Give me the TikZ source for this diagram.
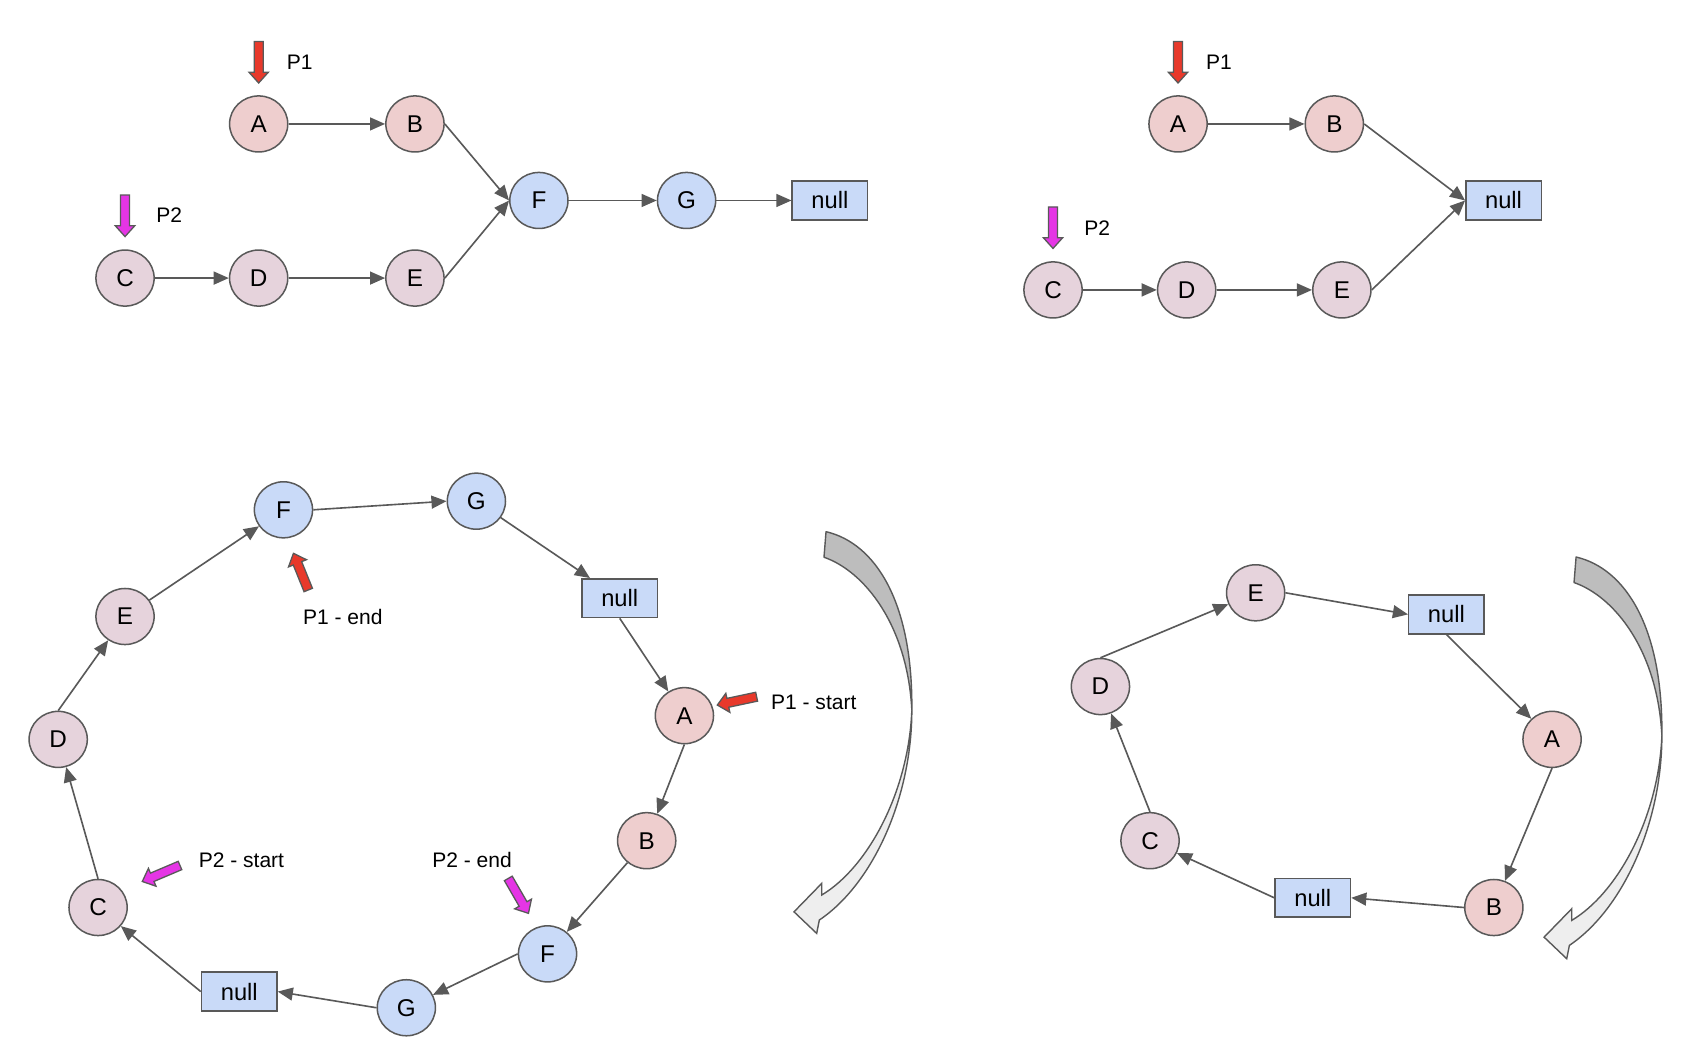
\documentclass[tikz,border=0pt]{standalone}
\usepackage{fontspec}
\setmainfont{Liberation Sans}
\usetikzlibrary{arrows.meta,shapes.geometric}
\definecolor{bord}{HTML}{595959}
\definecolor{pinkA}{HTML}{EECECE}
\definecolor{mauve}{HTML}{E6D3DC}
\definecolor{blueF}{HTML}{C9DAF8}
\definecolor{ptrred}{HTML}{E8392B}
\definecolor{ptrmag}{HTML}{E535E5}
\definecolor{darkg}{HTML}{BDBDBD}
\definecolor{lightg}{HTML}{EEEEEE}
\newcommand{\ptrarrow}[4]{%
  \begin{scope}[shift={#1},rotate=#2]
    \filldraw[draw=bord,line width=1.2pt,fill=#4,line join=miter]
      (0,-4.2) -- (#3-10,-4.2) -- (#3-10,-9) -- (#3,0) -- (#3-10,9) -- (#3-10,4.2) -- (0,4.2) -- cycle;
  \end{scope}}
\newcommand{\bigcurvearrow}[1]{%
  \begin{scope}[shift={#1}]
    \filldraw[draw=bord,line width=1.3pt,fill=darkg,line join=round]
      (766.4,493.3) .. controls (812,504) and (847,558) .. (846,659)
      .. controls (842,580) and (802,530) .. (764.5,517) -- cycle;
    \filldraw[draw=bord,line width=1.3pt,fill=lightg,line join=miter]
      (846,659) .. controls (843,735) and (805,805) .. (762.4,830.4)
      -- (762.4,819.6) -- (736.7,846) -- (757.7,866) -- (760.2,853.6)
      .. controls (810,820) and (846,740) .. (846,659) -- cycle;
  \end{scope}}
\begin{document}
\begin{tikzpicture}[x=1pt,y=-1pt,
  nd/.style={ellipse,draw=bord,line width=1.4pt,minimum width=54pt,minimum height=52pt,inner sep=0pt,font=\fontsize{22.5}{26}\selectfont},
  pinknd/.style={nd,fill=pinkA},
  mauvend/.style={nd,fill=mauve},
  bluend/.style={nd,fill=blueF},
  nullnd/.style={rectangle,draw=bord,fill=blueF,line width=1.4pt,minimum width=70pt,minimum height=36pt,inner sep=0pt,font=\fontsize{22}{26}\selectfont},
  conn/.style={draw=bord,line width=1.5pt,-{Triangle[length=14pt,width=12pt]}},
  lbl/.style={font=\fontsize{19.5}{23}\selectfont,inner sep=0pt}]
\useasboundingbox (0,0) rectangle (1568,976);
\fill[white] (0,0) rectangle (1568,976);

% ---------- top left ----------
\node[pinknd] (tlA) at (240,115) {A};
\node[pinknd] (tlB) at (385,115) {B};
\node[mauvend] (tlC) at (116,258) {C};
\node[mauvend] (tlD) at (240,258) {D};
\node[mauvend] (tlE) at (385,258) {E};
\node[bluend] (tlF) at (500,186) {F};
\node[bluend] (tlG) at (637,186) {G};
\node[nullnd] (tlN) at (770,186) {null};
\draw[conn] (tlA) -- (tlB);
\draw[conn] (tlB.east) -- (tlF.west);
\draw[conn] (tlC) -- (tlD);
\draw[conn] (tlD) -- (tlE);
\draw[conn] (tlE.east) -- (tlF.west);
\draw[conn] (tlF) -- (tlG);
\draw[conn] (tlG) -- (tlN);
\ptrarrow{(240,38.5)}{-90}{38.5}{ptrred}
\node[lbl] (tlP1) at (278,58) {P1};
\ptrarrow{(116,181)}{-90}{38.5}{ptrmag}
\node[lbl] (tlP2) at (157,200) {P2};

% ---------- top right ----------
\node[pinknd] (trA) at (1093,115) {A};
\node[pinknd] (trB) at (1238,115) {B};
\node[nullnd] (trN) at (1395,186) {null};
\node[mauvend] (trC) at (977,269) {C};
\node[mauvend] (trD) at (1101,269) {D};
\node[mauvend] (trE) at (1245,269) {E};
\draw[conn] (trA) -- (trB);
\draw[conn] (trB.east) -- (trN.west);
\draw[conn] (trC) -- (trD);
\draw[conn] (trD) -- (trE);
\draw[conn] (trE.east) -- (trN.west);
\ptrarrow{(1093,38.5)}{-90}{38.5}{ptrred}
\node[lbl] (trP1) at (1131,58) {P1};
\ptrarrow{(977,192)}{-90}{38.5}{ptrmag}
\node[lbl] (trP2) at (1018,212) {P2};

% ---------- bottom left ----------
\node[bluend] (blF) at (263,473) {F};
\node[bluend] (blG) at (442,465) {G};
\node[nullnd] (blN) at (575,555) {null};
\node[pinknd] (blA) at (635,664) {A};
\node[pinknd] (blB) at (600,780) {B};
\node[bluend] (blF2) at (508,885) {F};
\node[bluend] (blG2) at (377,935) {G};
\node[nullnd] (blN2) at (222,920) {null};
\node[mauvend] (blC) at (91,842) {C};
\node[mauvend] (blD) at (54,686) {D};
\node[mauvend] (blE) at (116,572) {E};
\draw[conn] (blE) -- (blF);
\draw[conn] (blF.east) -- (blG.west);
\draw[conn] (blG) -- (blN);
\draw[conn] (blN.south) -- (blA);
\draw[conn] (blA.south) -- (blB);
\draw[conn] (blB) -- (blF2);
\draw[conn] (blF2.west) -- (blG2);
\draw[conn] (blG2.west) -- (blN2.east);
\draw[conn] (blN2.west) -- (blC);
\draw[conn] (blC.north) -- (blD);
\draw[conn] (blD.north) -- (blE);
\ptrarrow{(286,547.4)}{112}{36.7}{ptrred}
\node[lbl] (blP1e) at (318,572) {P1 - end};
\ptrarrow{(702,646.4)}{192}{37.3}{ptrred}
\node[lbl] (blP1s) at (755,652) {P1 - start};
\ptrarrow{(167,803)}{203}{38}{ptrmag}
\node[lbl] (blP2s) at (224,798) {P2 - start};
\ptrarrow{(471.6,815)}{-60}{37.4}{ptrmag}
\node[lbl] (blP2e) at (438,798) {P2 - end};
\bigcurvearrow{(0,0)}

% ---------- bottom right ----------
\node[mauvend] (brE) at (1165,550) {E};
\node[nullnd] (brN) at (1342,570) {null};
\node[pinknd] (brA) at (1440,686) {A};
\node[pinknd] (brB) at (1386,842) {B};
\node[nullnd] (brN2) at (1218,833) {null};
\node[mauvend] (brC) at (1067,780) {C};
\node[mauvend] (brD) at (1021,637) {D};
\draw[conn] (brD.north) -- (brE);
\draw[conn] (brE.east) -- (brN.west);
\draw[conn] (brN.south) -- (brA);
\draw[conn] (brA.south) -- (brB);
\draw[conn] (brB.west) -- (brN2.east);
\draw[conn] (brN2.west) -- (brC);
\draw[conn] (brC.north) -- (brD);
\bigcurvearrow{(695.9,23.5)}
\end{tikzpicture}
\end{document}
